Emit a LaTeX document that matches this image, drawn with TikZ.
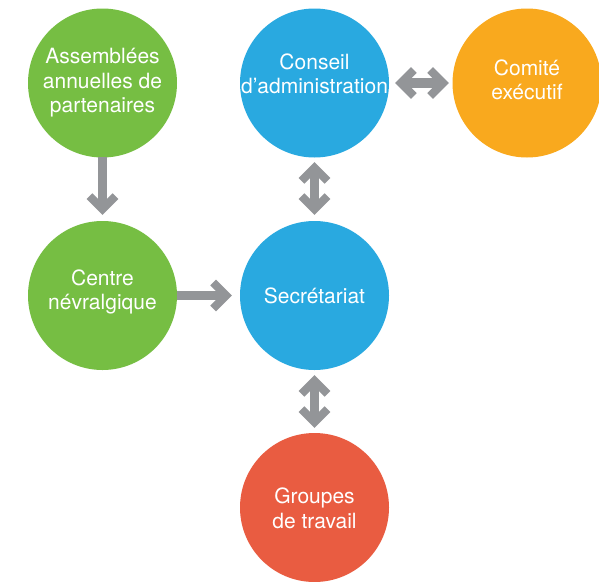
\documentclass[tikz,border=0pt]{standalone}
\usepackage{fontspec}
\setmainfont{TeX Gyre Heros}
\usetikzlibrary{arrows.meta}
\definecolor{cgreen}{RGB}{118,190,67}
\definecolor{cblue}{RGB}{41,169,224}
\definecolor{corange}{RGB}{249,169,30}
\definecolor{cred}{RGB}{233,92,65}
\definecolor{cgray}{RGB}{147,149,152}
\tikzset{chev/.tip={Straight Barb[length=13pt, width=26pt, line width=8pt]}}
\begin{document}
\begin{tikzpicture}[x=1pt,y=-1pt,
  bubble/.style={circle, minimum size=149pt, inner sep=0pt, draw=none},
  lbl/.style={text=white, align=center, font=\fontsize{21}{24.5}\selectfont, inner sep=0pt},
  conn/.style={draw=cgray, line width=9.5pt},
  one/.style={conn, -chev},
  two/.style={conn, chev-chev}
]
\useasboundingbox (0,0) rectangle (599,581);
\fill[white] (0,0) rectangle (599,581);
\node[bubble, fill=cgreen, label={[lbl]center:Assemblées\\annuelles de\\partenaires}] (A) at (102.5,83) {};
\node[bubble, fill=cblue, label={[lbl,yshift=9pt]center:Conseil\\d’administration}] (C) at (314.5,83) {};
\node[bubble, fill=corange, label={[lbl,yshift=3pt]center:Comité\\exécutif}] (E) at (527,83) {};
\node[bubble, fill=cgreen, label={[lbl,yshift=3.5pt]center:Centre\\névralgique}] (N) at (102.5,295.5) {};
\node[bubble, fill=cblue, label={[lbl]center:Secrétariat}] (S) at (314.5,295.5) {};
\node[bubble, fill=cred, label={[lbl,yshift=-1pt]center:Groupes\\de travail}] (G) at (314.5,507.5) {};
\draw[one, shorten <=-1pt, shorten >=6pt] (A) -- (N);
\draw[one, shorten <=0pt, shorten >=8pt] (N) -- (S);
\draw[two, shorten <=6pt, shorten >=3.5pt] (C) -- (E);
\draw[two, shorten <=4.5pt, shorten >=6pt] (C) -- (S);
\draw[two, shorten <=5pt, shorten >=5pt] (S) -- (G);
\end{tikzpicture}
\end{document}
